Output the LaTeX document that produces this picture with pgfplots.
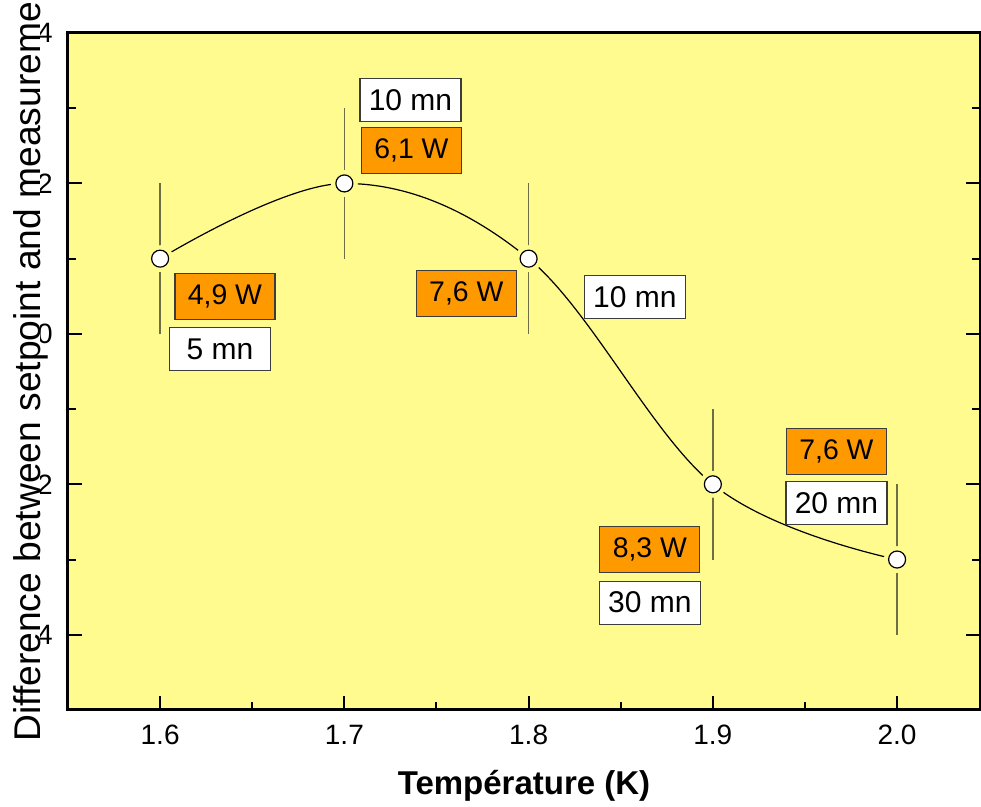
\documentclass[border=0pt]{standalone}
\usepackage{fontspec}
\setmainfont{Liberation Sans}
\usepackage{pgfplots}
\pgfplotsset{compat=1.18}
\usetikzlibrary{calc}

\definecolor{bgyellow}{RGB}{255,251,143}
\definecolor{boxorange}{RGB}{255,153,0}
\definecolor{errcol}{RGB}{110,110,70}
\definecolor{boxedge}{RGB}{60,60,60}

\pgfplotstableread{
x    y   e
1.6  1   1
1.7  2   1
1.8  1   1
1.9  -2  1
2.0  -3  1
}\mydata

\tikzset{
  obox/.style={draw=boxedge, line width=0.6pt, fill=boxorange, minimum width=50pt, minimum height=23pt, inner sep=0pt, font=\fontsize{14.2}{16}\selectfont},
  wbox/.style={draw=boxedge, line width=0.6pt, fill=white, minimum width=50.5pt, minimum height=21.5pt, inner sep=0pt, font=\fontsize{15}{17}\selectfont},
}

\begin{document}
\begin{tikzpicture}
\begin{axis}[
  scale only axis, width=456pt, height=338.5pt,
  xmin=1.55, xmax=2.045, ymin=-5, ymax=4,
  xtick={1.6,1.7,1.8,1.9,2.0}, xticklabels={1.6,1.7,1.8,1.9,2.0},
  minor xtick={1.65,1.75,1.85,1.95},
  ytick={-4,-2,0,2,4}, yticklabels={−4,−2,0,2,4},
  minor ytick={-3,-1,1,3},
  tick align=inside, xtick pos=lower, ytick pos=both,
  major tick length=7pt, minor tick length=4pt,
  every tick/.style={black, line width=1pt},
  axis line style={line width=1.5pt},
  axis background/.style={fill=bgyellow},
  /pgf/number format/assume math mode=true,
  tick label style={font=\fontsize{14}{16}\selectfont},
  xticklabel style={anchor=north, inner sep=0pt, yshift=-7.5pt},
  yticklabel style={anchor=east, inner sep=0pt, xshift=-7.5pt},
  xlabel={Température (K)},
  xlabel style={at={(axis description cs:0.5,0)}, anchor=north, inner sep=0pt, yshift=-30pt, font=\bfseries\fontsize{16.5}{18}\selectfont},
]
% smooth curve through the points
\addplot[black, line width=0.6pt, smooth, tension=0.6] table[x=x, y=y] {\mydata};
% background-coloured halo that leaves a gap in the curve round each marker
\addplot[only marks, mark=*, mark size=6.5pt, color=bgyellow, mark options={fill=bgyellow, draw=bgyellow}] table[x=x, y=y] {\mydata};
\addplot[only marks, mark=*, mark size=4.25pt, mark options={fill=white, draw=black, line width=0.6pt},
  error bars/.cd, y dir=both, y explicit, error mark=none,
  error bar style={errcol, line width=0.8pt}] table[x=x, y=y, y error=e] {\mydata};

\node[obox] at (axis cs:1.6352,0.493) {4,9 W};
\node[wbox] at (axis cs:1.6325,-0.2) {5 mn};
\node[wbox] at (axis cs:1.7359,3.107) {10 mn};
\node[obox] at (axis cs:1.7364,2.44) {6,1 W};
\node[obox] at (axis cs:1.7662,0.533) {7,6 W};
\node[wbox] at (axis cs:1.8577,0.493) {10 mn};
\node[obox] at (axis cs:1.8658,-2.867) {8,3 W};
\node[wbox] at (axis cs:1.8658,-3.573) {30 mn};
\node[obox] at (axis cs:1.9671,-1.56) {7,6 W};
\node[wbox] at (axis cs:1.9671,-2.253) {20 mn};

\coordinate (sw) at (rel axis cs:0,0);
\coordinate (ne) at (rel axis cs:1,1);
\end{axis}
\node[rotate=90, anchor=base west, inner sep=0pt, text depth=0pt, fill=white,
  font=\fontsize{18.6}{20}\selectfont] at ($(sw)+(-13.75pt,-16pt)$) {Difference between setpoint and measureme};
\pgfresetboundingbox
\path ($(sw)+(-34pt,-48.5pt)$) rectangle ($(ne)+(0.5pt,16.5pt)$);
\end{tikzpicture}
\end{document}
